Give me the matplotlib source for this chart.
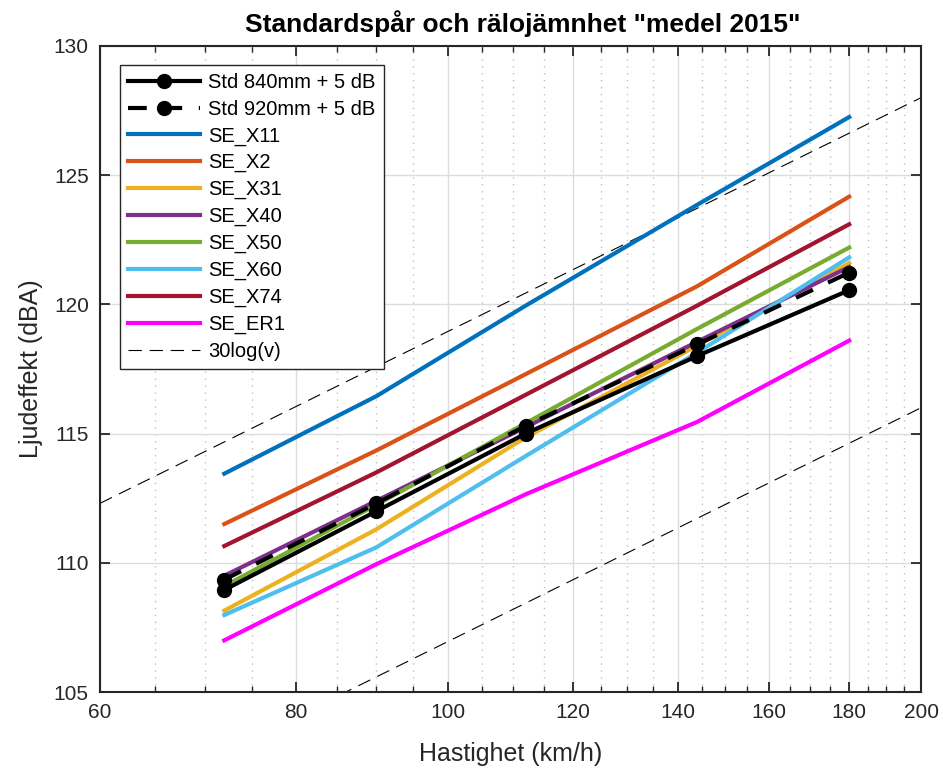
import numpy as np
import matplotlib
matplotlib.use('Agg')
import matplotlib.pyplot as plt
from matplotlib.ticker import FixedLocator, NullFormatter

plt.rcParams['font.family'] = ['Liberation Sans', 'DejaVu Sans']

# hastigheter (km/h)
speed = [72, 90, 112, 144, 180]

std_840 = [108.95, 112.0, 115.0, 118.0, 120.55]
std_920 = [109.35, 112.3, 115.3, 118.45, 121.23]

series_names = ['SE_X11', 'SE_X2', 'SE_X31', 'SE_X40', 'SE_X50', 'SE_X60', 'SE_X74', 'SE_ER1']
se_x11 = [113.45, 116.45, 119.95, 123.85, 127.25]
se_x2 = [111.5, 114.35, 117.3, 120.7, 124.17]
se_x31 = [108.15, 111.3, 114.85, 118.4, 121.6]
se_x40 = [109.5, 112.4, 115.25, 118.55, 121.45]
se_x50 = [109.1, 112.25, 115.4, 119.05, 122.2]
se_x60 = [107.98, 110.6, 114.13, 118.13, 121.82]
se_x74 = [110.65, 113.5, 116.5, 119.95, 123.1]
se_er1 = [107.0, 109.95, 112.65, 115.45, 118.6]
series_values = [se_x11, se_x2, se_x31, se_x40, se_x50, se_x60, se_x74, se_er1]
series_colors = ['#0072BD', '#D95319', '#EDB120', '#7E2F8E', '#77AC30', '#4DBEEE', '#A2142F', '#FF00FF']

# 30log(v) hjälplinjer, ändpunkter vid 60 och 200 km/h
ref_speed = [60, 200]
ref_upper = [112.3, 128.0]
ref_lower = [100.3, 116.0]

fig = plt.figure(figsize=(9.43, 7.69), dpi=100)
ax = fig.add_axes([0.106, 0.1001, 0.8707, 0.8401])

ax.plot(speed, std_840, color='black', lw=3, marker='o', ms=10,
        label='Std 840mm + 5 dB', zorder=4)
ax.plot(speed, std_920, color='black', lw=3, marker='o', ms=10,
        linestyle=(0, (4.5, 4.0)), label='Std 920mm + 5 dB', zorder=4)
for name, vals, col in zip(series_names, series_values, series_colors):
    ax.plot(speed, vals, color=col, lw=3, label=name, zorder=3)
ax.plot(ref_speed, ref_upper, color='black', lw=0.8, linestyle=(0, (12, 7)),
        label='30log(v)', zorder=2)
ax.plot(ref_speed, ref_lower, color='black', lw=0.8, linestyle=(0, (12, 7)), zorder=2)

ax.set_xscale('log')
ax.set_xlim(60, 200)
ax.set_ylim(105, 130)
major_x = [60, 80, 100, 120, 140, 160, 180, 200]
ax.xaxis.set_major_locator(FixedLocator(major_x))
ax.set_xticklabels([str(v) for v in major_x])
minor_x = [v for v in range(65, 200, 5) if v not in major_x]
ax.xaxis.set_minor_locator(FixedLocator(minor_x))
ax.xaxis.set_minor_formatter(NullFormatter())
ax.set_yticks([105, 110, 115, 120, 125, 130])

ax.grid(True, which='major', color='#dcdcdc', lw=1.0, zorder=0)
ax.grid(True, which='minor', axis='x', color='#c0c0c0', lw=1.0, linestyle=(0, (1, 4)), zorder=0)
ax.set_axisbelow(True)

ax.tick_params(which='both', direction='in', top=True, right=True, labelsize=15,
               color='#262626', labelcolor='#262626')
ax.tick_params(which='major', length=7, width=1.3, pad=8)
ax.tick_params(which='minor', length=4, width=1.0)
for s in ax.spines.values():
    s.set_linewidth(1.5)
    s.set_color('#262626')

ax.set_xlabel('Hastighet (km/h)', fontsize=18, color='#262626', labelpad=14)
ax.set_ylabel('Ljudeffekt (dBA)', fontsize=18, color='#262626', labelpad=8)
ax.set_title('Standardspår och rälojämnhet "medel 2015"', fontsize=19, fontweight='bold',
             pad=10, x=0.515)

leg = ax.legend(loc='upper left', bbox_to_anchor=(0.024, 0.9706), fontsize=14.5, numpoints=1,
                handlelength=3.6, handletextpad=0.4, labelspacing=0.38, borderpad=0.4,
                borderaxespad=0, fancybox=False, framealpha=1, edgecolor='#262626')
leg.get_frame().set_linewidth(1.0)

fig.savefig('out.png', dpi=100)
